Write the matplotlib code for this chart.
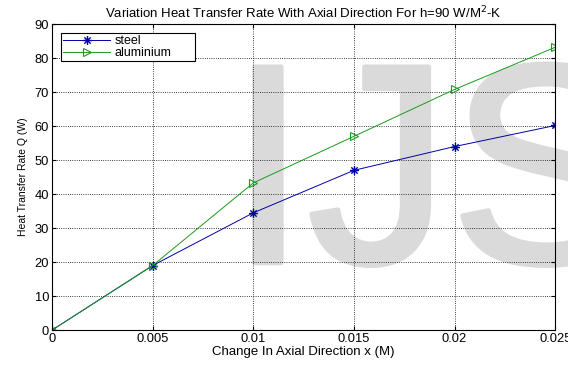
import matplotlib
matplotlib.use("Agg")
import matplotlib.pyplot as plt
import matplotlib.patheffects as pe
from matplotlib.path import Path

plt.rcParams['font.family'] = ['Liberation Sans', 'DejaVu Sans']

x = [0, 0.005, 0.01, 0.015, 0.02, 0.025]
steel = [0, 19, 34.5, 47, 54, 60.2]
aluminium = [0, 19, 43.3, 57, 70.8, 83.2]
xticks = [0, 0.005, 0.01, 0.015, 0.02, 0.025]
xticklabels = ['0', '0.005', '0.01', '0.015', '0.02', '0.025']
yticks = [0, 10, 20, 30, 40, 50, 60, 70, 80, 90]

# MATLAB-style asterisk marker (plus + cross)
ast = Path([(-1, 0), (1, 0), (0, -1), (0, 1),
            (-0.7, -0.7), (0.7, 0.7), (-0.7, 0.7), (0.7, -0.7)],
           [Path.MOVETO, Path.LINETO] * 4)

fig = plt.figure(figsize=(5.68, 3.66), dpi=100)
ax = fig.add_axes([0.0915, 0.098, 0.886, 0.836])

wm_color = '#dadada'
ax.text(0.402, 0.282, 'IJS', fontsize=205, color=wm_color, ha='left', va='baseline',
        family='Liberation Sans', transform=fig.transFigure, zorder=0.2, clip_on=False,
        path_effects=[pe.withStroke(linewidth=3.5, foreground=wm_color)])

ax.plot(x, steel, color='#0000a8', marker=ast, markersize=6.5, markeredgewidth=1.0,
        lw=0.7, label='steel')
ax.plot(x, aluminium, color='#1a9a1a', marker='>', markersize=6, markerfacecolor='none',
        markeredgewidth=0.8, lw=0.7, label='aluminium')

ax.set_xlim(0, 0.025)
ax.set_ylim(0, 90)
ax.set_xticks(xticks)
ax.set_xticklabels(xticklabels)
ax.set_yticks(yticks)
ax.tick_params(direction='in', top=True, right=True, labelsize=9.3, length=3, pad=2)
ax.grid(True, color='black', linestyle=':', linewidth=0.6)

ax.set_title('Variation Heat Transfer Rate With Axial Direction For h=90 W/M$^2$-K',
             fontsize=9.5, pad=4)
ax.set_xlabel('Change In Axial Direction x (M)', fontsize=9.5, labelpad=1)
ax.set_ylabel('Heat Transfer Rate Q (W)', fontsize=7.5, labelpad=5)

leg = ax.legend(loc='upper left', bbox_to_anchor=(0.018, 0.9706, 0.266, 0.0),
                mode='expand', borderaxespad=0.0,
                fontsize=9.0, fancybox=False, edgecolor='black',
                framealpha=1, handlelength=3.8, handletextpad=0.3,
                labelspacing=0.0, borderpad=0.15)
leg.get_frame().set_linewidth(0.8)

fig.savefig('out.png', dpi=100)
